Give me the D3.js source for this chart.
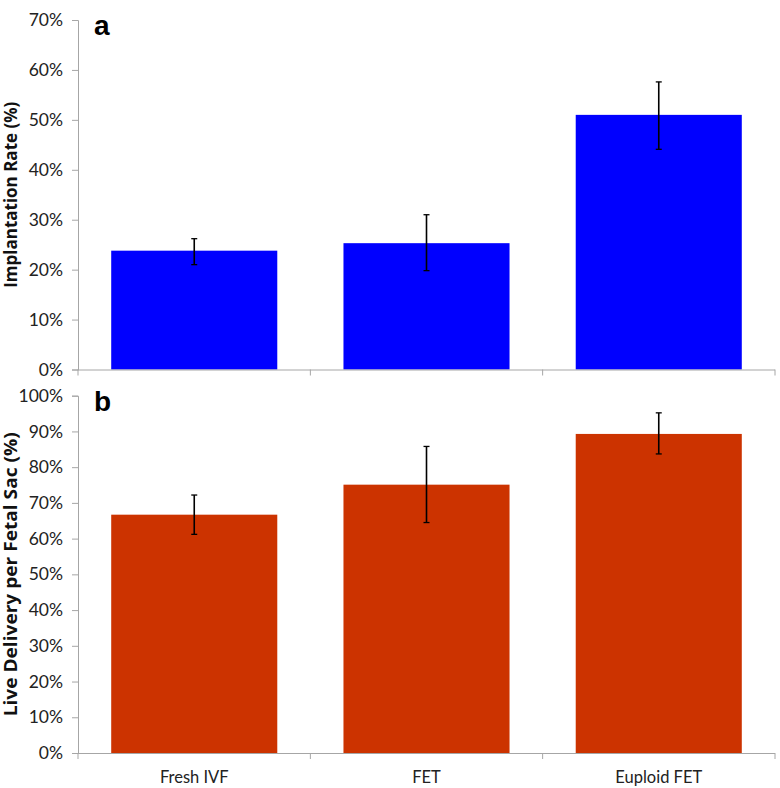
<!DOCTYPE html>
<html><head><meta charset="utf-8">
<script src="https://cdn.jsdelivr.net/npm/d3@7"></script>
<style>body{margin:0;background:#fff}svg{display:block}</style>
</head><body>
<script>
const categories = ["Fresh IVF", "FET", "Euploid FET"];
const implantation = [23.8, 25.3, 51.0];
const implantationLow = [21.0, 19.8, 44.1];
const implantationHigh = [26.2, 31.0, 57.6];
const liveDelivery = [66.7, 75.1, 89.3];
const liveLow = [61.2, 64.5, 83.7];
const liveHigh = [72.2, 85.8, 95.2];
const ticksA = [0,10,20,30,40,50,60,70];
const ticksB = [0,10,20,30,40,50,60,70,80,90,100];

const W = 780, H = 788;
const svg = d3.select("body").append("svg").attr("width", W).attr("height", H);
const tickFont = "Lato, 'Open Sans', sans-serif";
const x = d3.scaleBand().domain(categories).range([78, 775]).paddingInner(0.285).paddingOuter(0.143);

function panel(vals, lo, hi, ticks, yMax, y0, y1, color, label, title, titleLen, showX) {
  const y = d3.scaleLinear().domain([0, yMax]).range([y0, y1]);
  const g = svg.append("g");
  g.selectAll("rect.bar").data(vals).join("rect")
    .attr("x", (d,i)=>x(categories[i])).attr("width", x.bandwidth())
    .attr("y", d=>y(d)).attr("height", d=>y0 - y(d)).attr("fill", color);
  const ya = d3.axisLeft(y).tickValues(ticks).tickFormat(d=>d+"%").tickSize(6).tickPadding(9);
  const yg = g.append("g").attr("transform","translate(78,0)").call(ya);
  yg.select(".domain").attr("stroke","#a6a6a6");
  yg.selectAll(".tick line").attr("stroke","#a6a6a6");
  yg.selectAll("text").attr("font-family", tickFont).attr("font-size", 17.5).attr("fill","#222");
  g.append("line").attr("x1",78).attr("x2",775).attr("y1",y0+0.5).attr("y2",y0+0.5).attr("stroke","#a6a6a6");
  const bounds = [78, ...categories.map(c=>x(c)+x.bandwidth()+x.step()*x.paddingInner()/2).slice(0,2), 775];
  g.selectAll("line.xt").data(bounds).join("line")
    .attr("x1",d=>d).attr("x2",d=>d).attr("y1",y0).attr("y2",y0+6).attr("stroke","#a6a6a6");
  if (showX) {
    g.selectAll("text.xl").data(categories).join("text")
      .attr("x", d=>x(d)+x.bandwidth()/2).attr("y", y0+30).attr("text-anchor","middle")
      .attr("font-family", tickFont).attr("font-size", 16.5).attr("fill","#222").text(d=>d);
  }
  vals.forEach((v,i)=>{
    const cx = x(categories[i]) + x.bandwidth()/2;
    g.append("line").attr("x1",cx).attr("x2",cx).attr("y1",y(lo[i])).attr("y2",y(hi[i])).attr("stroke","#000").attr("stroke-width",1.6);
    [lo[i],hi[i]].forEach(e=>g.append("line").attr("x1",cx-3).attr("x2",cx+3).attr("y1",y(e)).attr("y2",y(e)).attr("stroke","#000").attr("stroke-width",1.3));
  });
  g.append("text").attr("x",94).attr("y",y1+15).attr("font-family","'Liberation Sans', Arial, sans-serif")
    .attr("font-weight","bold").attr("font-size",28).text(label);
  g.append("text").attr("transform",`translate(17,${(y0+y1)/2}) rotate(-90)`).attr("text-anchor","middle")
    .attr("font-family","'Open Sans', sans-serif").attr("font-weight","bold").attr("font-size",17)
    .attr("textLength", titleLen).attr("lengthAdjust","spacingAndGlyphs").attr("fill","#111").text(title);
}
panel(implantation, implantationLow, implantationHigh, ticksA, 70, 369.5, 20, "#0000ff", "a", "Implantation Rate (%)", 186, false);
panel(liveDelivery, liveLow, liveHigh, ticksB, 100, 753, 395.7, "#cc3300", "b", "Live Delivery per Fetal Sac (%)", 284, true);
</script>
</body></html>
